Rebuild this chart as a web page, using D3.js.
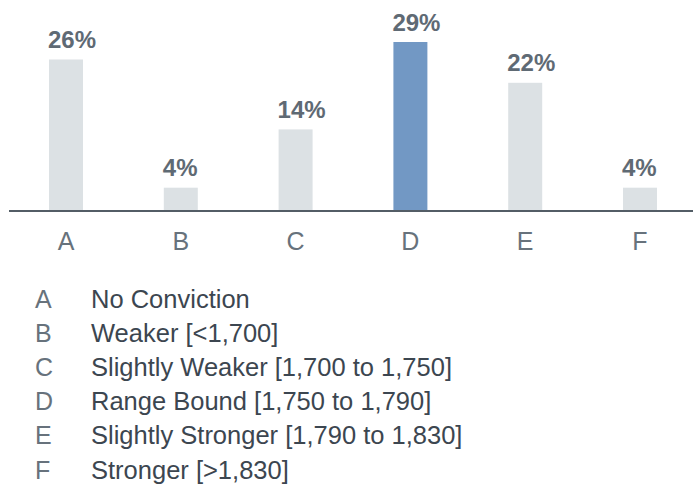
<!DOCTYPE html>
<html><head><meta charset="utf-8">
<script src="https://cdn.jsdelivr.net/npm/d3@7/dist/d3.min.js"></script>
<style>body{margin:0;background:#fff;}svg{display:block;font-family:"Liberation Sans",Arial,sans-serif;}</style>
</head><body>
<svg id="chart" width="693" height="485"></svg>
<script>
const categories = ["A","B","C","D","E","F"];
const values = [26,4,14,29,22,4];
const valueLabels = ["26%","4%","14%","29%","22%","4%"];
const highlight = "D";
const legendKeys = ["A","B","C","D","E","F"];
const legendLabels = ["No Conviction","Weaker [<1,700]","Slightly Weaker [1,700 to 1,750]","Range Bound [1,750 to 1,790]","Slightly Stronger [1,790 to 1,830]","Stronger [>1,830]"];

const svg = d3.select("#chart");
const baseY = 211;
const x = d3.scaleBand().domain(categories).range([8.6, 697.4]).paddingInner(0.704).paddingOuter(0.352);
const y = d3.scaleLinear().domain([0, 29]).range([baseY, 42]);

svg.selectAll("rect.bar").data(categories).join("rect")
  .attr("class","bar")
  .attr("x", d => x(d))
  .attr("width", x.bandwidth())
  .attr("y", (d,i) => y(values[i]))
  .attr("height", (d,i) => baseY - y(values[i]))
  .attr("fill", d => d === highlight ? "#7298c4" : "#dce1e4");

svg.selectAll("text.val").data(categories).join("text")
  .attr("class","val")
  .attr("x", d => x(d) - 1)
  .attr("y", (d,i) => y(values[i]) - 11.5)
  .attr("text-anchor","start")
  .attr("font-size", 24).attr("font-weight","bold")
  .attr("fill","#5f6a74")
  .text((d,i) => valueLabels[i]);

const axis = d3.axisBottom(x).tickSize(0).tickPadding(21);
const gAx = svg.append("g").attr("transform", `translate(0,${baseY})`).call(axis);
gAx.select(".domain").remove();
gAx.append("line").attr("x1", 9).attr("x2", 693).attr("y1", 0).attr("y2", 0)
  .attr("stroke","#535d66").attr("stroke-width", 2);
gAx.selectAll(".tick text").attr("font-size", 25).attr("fill","#67727c")
  .attr("font-family","'Liberation Sans',Arial,sans-serif");

const leg = svg.append("g");
const rowY = d3.scaleLinear().domain([0,5]).range([307.5, 478.5]);
leg.selectAll("text.k").data(legendKeys).join("text").attr("class","k")
  .attr("x", 35).attr("y", (d,i) => rowY(i))
  .attr("font-size", 25).attr("fill","#67727c").text(d => d);
leg.selectAll("text.l").data(legendLabels).join("text").attr("class","l")
  .attr("x", 91).attr("y", (d,i) => rowY(i))
  .attr("font-size", 25.5).attr("fill","#3c4650").text(d => d);
</script>
</body></html>
